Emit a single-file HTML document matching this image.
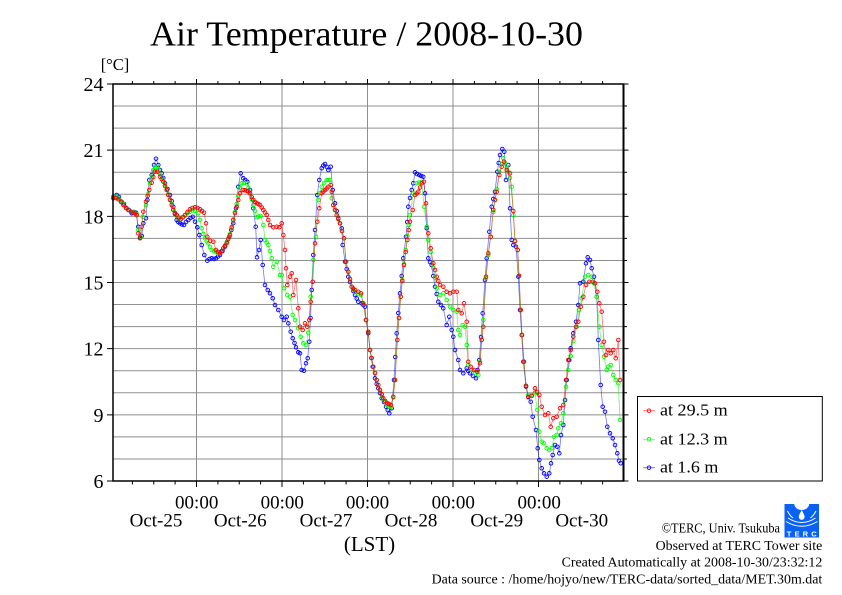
<!DOCTYPE html>
<html><head><meta charset="utf-8"><style>
html,body{margin:0;padding:0;background:#fff;}
svg{display:block;}
text{font-family:"Liberation Serif","DejaVu Serif",serif;fill:#000;}
</style></head><body>
<svg width="842" height="595" viewBox="0 0 842 595" xmlns="http://www.w3.org/2000/svg">
<defs>
<marker id="mb" markerUnits="userSpaceOnUse" markerWidth="6" markerHeight="6" refX="3" refY="3" viewBox="0 0 6 6" overflow="visible"><circle cx="3" cy="3" r="1.8" fill="none" stroke="#0000ff" stroke-width="0.9"/></marker>
<marker id="mg" markerUnits="userSpaceOnUse" markerWidth="6" markerHeight="6" refX="3" refY="3" viewBox="0 0 6 6" overflow="visible"><circle cx="3" cy="3" r="1.8" fill="none" stroke="#00ff00" stroke-width="0.9"/></marker>
<marker id="mr" markerUnits="userSpaceOnUse" markerWidth="6" markerHeight="6" refX="3" refY="3" viewBox="0 0 6 6" overflow="visible"><circle cx="3" cy="3" r="1.8" fill="none" stroke="#ff0000" stroke-width="0.9"/></marker>
</defs>
<rect width="842" height="595" fill="#fff"/>

<!-- title -->
<text x="150" y="45.7" font-size="35" textLength="433" lengthAdjust="spacingAndGlyphs">Air Temperature / 2008-10-30</text>
<text x="100.7" y="70" font-size="16.5">[°C]</text>

<!-- grid -->
<g stroke="#8f8f8f" stroke-width="1" fill="none">
<path d="M113 106.06H623.5M113 128.11H623.5M113 150.17H623.5M113 172.22H623.5M113 194.28H623.5M113 216.33H623.5M113 238.39H623.5M113 260.44H623.5M113 282.5H623.5M113 304.56H623.5M113 326.61H623.5M113 348.67H623.5M113 370.72H623.5M113 392.78H623.5M113 414.83H623.5M113 436.89H623.5M113 458.94H623.5"/>
<path d="M196.5 84V481M282 84V481M367.5 84V481M453 84V481M538.5 84V481"/>
</g>

<!-- ticks -->
<g stroke="#000" stroke-width="1" fill="none">
<path d="M132.4 84V81M153.75 84V81M175.1 84V81M217.9 84V81M239.25 84V81M260.6 84V81M303.4 84V81M324.75 84V81M346.1 84V81M388.9 84V81M410.25 84V81M431.6 84V81M474.4 84V81M495.75 84V81M517.1 84V81M559.9 84V81M581.25 84V81M602.6 84V81"/>
<path d="M196.5 84V79M282 84V79M367.5 84V79M453 84V79M538.5 84V79"/>
<path d="M132.4 481V484.5M153.75 481V484.5M175.1 481V484.5M217.9 481V484.5M239.25 481V484.5M260.6 481V484.5M303.4 481V484.5M324.75 481V484.5M346.1 481V484.5M388.9 481V484.5M410.25 481V484.5M431.6 481V484.5M474.4 481V484.5M495.75 481V484.5M517.1 481V484.5M559.9 481V484.5M581.25 481V484.5M602.6 481V484.5"/>
<path d="M196.5 481V487M282 481V487M367.5 481V487M453 481V487M538.5 481V487"/>
<path d="M107 84H113M107 150.17H113M107 216.33H113M107 282.5H113M107 348.67H113M107 414.83H113M107 481H113"/>
<path d="M623.5 106.06H627M623.5 128.11H627M623.5 172.22H627M623.5 194.28H627M623.5 238.39H627M623.5 260.44H627M623.5 304.56H627M623.5 326.61H627M623.5 370.72H627M623.5 392.78H627M623.5 436.89H627M623.5 458.94H627"/>
<path d="M623.5 84H628.5M623.5 150.17H628.5M623.5 216.33H628.5M623.5 282.5H628.5M623.5 348.67H628.5M623.5 414.83H628.5M623.5 481H628.5"/>
</g>

<!-- y labels -->
<g font-size="20" text-anchor="end">
<text x="103.5" y="91">24</text>
<text x="103.5" y="157.2">21</text>
<text x="103.5" y="223.3">18</text>
<text x="103.5" y="289.5">15</text>
<text x="103.5" y="355.7">12</text>
<text x="103.5" y="421.8">9</text>
<text x="103.5" y="488">6</text>
</g>

<!-- x labels -->
<g font-size="19" text-anchor="middle">
<text x="196.7" y="508.7">00:00</text>
<text x="282.3" y="508.7">00:00</text>
<text x="367.5" y="508.7">00:00</text>
<text x="453.3" y="508.7">00:00</text>
<text x="539.2" y="508.7">00:00</text>
<text x="156" y="526.3">Oct-25</text>
<text x="240.3" y="526.3">Oct-26</text>
<text x="326" y="526.3">Oct-27</text>
<text x="411" y="526.3">Oct-28</text>
<text x="496.7" y="526.3">Oct-29</text>
<text x="581.7" y="526.3">Oct-30</text>
</g>
<text x="369.5" y="551" font-size="21" text-anchor="middle">(LST)</text>

<!-- series -->
<polyline fill="none" stroke="#0000ff" stroke-opacity="0.55" stroke-width="0.8" marker-start="url(#mb)" marker-mid="url(#mb)" marker-end="url(#mb)" points="113.3,196.7 116.7,195 119,197 121.7,201.7 124,204 126.7,208.3 129,210 131.7,213.3 134,212 136,212.7 138.3,226.7 140,237.3 141.7,236 143.3,223.3 146,218.3 147.3,200 149.3,180 151.7,175 154,165 156,158.7 158.3,165 160,170 161.7,173.3 163.3,178 165,183.3 167.5,189 170,195 171.7,201 173.3,206.7 175,214 176.7,220 178.3,222 180,223.3 182,224.5 184,225 186,222 188.3,220 190.5,218 192.7,216.7 195,221.7 197.3,227.3 199.3,235 201.7,245 204.3,255 207.3,260.7 209.5,259 211.7,258.3 214,259 216,258.3 218,256.5 220,255 222.5,251 225,246.7 227,242 229.3,236.7 231.3,230 233.3,223.3 236,208.3 238.3,186.7 240.7,173.3 243.3,178.3 245.3,180 247.3,181.7 250,190 251.7,199 253.3,208.3 255.7,226.7 257,257.3 259,250 260.7,240 262.7,265 265,285 267.7,290 270,293.3 272.7,298.3 275,305 278.3,310 281.7,316.7 284,320 286.7,316.7 288.3,323.3 290.7,331.7 292.7,338.3 294.5,343 296,347.3 298.3,352.3 300,353.3 301.7,370 304,370.7 306,363.3 307.7,358.3 309.3,341.7 310.5,318 311.7,290 313.3,255 315,230 317.3,195 319.3,180 321.7,168.3 323.3,165.5 325,164 327,167 328.3,170 330.7,166.7 332.7,190 335,203.3 336.7,211 338.3,218.3 340,223.3 341.7,228.3 342.7,245 345,261.7 346.7,269 348.3,276.7 350,282 351.7,286.7 353.3,291 355,295 356.7,298.5 358.3,301.7 361.7,303.3 363.3,305 365,306.7 366,320 368.3,333.3 370,350 371.3,358 372.7,366.7 375,378.3 376.7,384 378.3,388.3 380,393 381.7,398.3 384,402 386,406.7 387.7,410 389.3,413.3 391.7,408.3 394,380 395.3,357 396.7,333.3 398.3,313 400,293.3 401.7,276 403.3,258.3 406,236.7 407.2,222 408.3,206.7 410,198 411.7,190 413.3,183.3 415,172.3 417,174 419.3,175 421.3,176 423.3,176.7 425,193.3 426.7,228.3 428.3,258.3 430,262 431.7,265 433.3,276 435,286.7 436.7,294 438.3,301.7 441,305 443.3,308.3 446.7,325 449.3,316.7 451.7,330 453.3,336.7 455,350 458.3,360 460,370 463.3,373.3 466.7,368.3 468.3,371 470,373.3 473,376 476,378.3 477.6,370 479.3,360 481,337 482.7,313.3 485,280 486.7,258.3 489.3,231.7 491.7,206.7 493.3,199 495,191.7 497.3,171.7 498.7,163 500,155 502.3,149 504.3,151.7 506,180 508.3,165 510,208.3 511.7,240 513.3,245 516,246.7 518.3,276.7 520,310 521.7,335 523.3,361.7 526,386.7 528.3,396.7 530.7,401.7 532.7,416.7 536,430 537.7,448.3 539.3,460 541.7,468.3 544,473.3 546.7,476.7 549.3,473.3 551,463.3 552.7,455 555,445 557.3,446.7 559.3,453.3 561,435 563.3,425 565,400 566.7,380 569.3,360 570.7,348.3 573.3,333.3 576,321.7 578.3,305 580,283.3 583.3,281.7 586,263.3 587.7,257.3 590,260 591.7,268.3 594,276.7 596.7,296.7 598.3,340 600.7,385 602.7,406.7 605,411.7 607.3,426.7 610,433.3 612.7,438.3 615,445 617.3,453.3 619,460.7 620.7,463.3"/>

<polyline fill="none" stroke="#00ff00" stroke-opacity="0.6" stroke-width="0.8" marker-start="url(#mg)" marker-mid="url(#mg)" marker-end="url(#mg)" points="113.3,197.5 116,196.5 118.3,198 121,201 123.3,204 126,207.5 128.3,209.5 131,211.5 133.3,212 135,213 136.7,214 138.3,230 140.7,236.7 142.7,216.7 146,205 148,194 150,183.3 151.7,178 153.3,170 155,167.5 156.7,166.7 158.3,170 160,174 161.7,177 163.3,181 165,185 166.7,189.5 168.3,194.5 170,199.5 171.7,204 173.3,209 175,213 176.7,216 178.7,218.5 180.7,219.5 183,217.5 185,215.5 187.5,213 190,211.7 192.5,210.5 195,210.7 198.3,213.3 200,220 201.7,228.3 203.3,234 205,238.3 206.7,241 208.3,243.3 210,247 211.7,250 214,251 216,251.7 218,253 220,253.5 221.7,251 223.3,248.3 225,245.5 226.7,242.5 228.3,238.5 230,234 231.7,227 233.3,219.5 235,212 236.7,204 238.3,196 240,188 241.7,183.3 244,183 246.7,183.3 248.3,188 250,193.3 251.7,199 253.3,205 255,211 256.7,217.3 258.5,216.5 260.7,216 263.3,225 265,240 266.7,242.5 268.3,245 270,251 271.7,258.3 273.3,266.7 276.7,261.7 280,275 281.7,275 284,288.3 287.3,295 290,296.7 292.7,315 295,320 298.3,328.3 300.7,336.7 303.3,343.3 306,345 308.3,332.7 310.7,296.7 313.3,260 316,236.7 318.3,200 320,193 321.7,186.7 324,183 326.7,180 328.3,180 330,180 331.7,198.3 333.3,205 335,210 336.7,215 338.3,219 340,223.3 342,231 344,238.3 346,261.7 348.3,271.7 350,279 351.7,286.7 353.3,289.5 355,292 358.3,294 361,295 363.3,304 366,320 368.3,331.7 370,350 371.7,358 373.3,366.7 375,373 376.7,380 378.3,385 380,390.5 381.7,395 383.3,399 385.3,402 387.3,405 389,406.5 391,407 393.3,397.5 395,380 397.3,340 399,318 400.7,296.7 402.3,280 404,264 405.7,250 407.3,236 408.7,225 410,215 413.3,193.3 416.7,183.3 419,182.5 421.7,181.7 424,206.7 426.7,226.7 428.3,240 430.7,252 433.3,268 435,278 436.7,288.3 440,295 443.3,293.3 446.7,300 450,306.7 453.3,310 456.7,311.7 458.3,330 460,335 462.7,325 465,326.7 466.7,345 468.3,365 471.7,370 475,373.3 478.3,375 480,361.7 481.7,340 483.3,320 486,278 488.3,255 490.7,237 493.3,212 495,200 496.7,189 499.3,172 501.7,164 503.3,158.3 505,163 506.7,168 508.3,171.7 510,178 511.7,186.7 513.3,215 515,241 517.7,250 519,275.7 520.7,310 522,335 524,361.7 526,385.7 528.3,395 531.7,395 535,393.3 537.3,410 539.3,431.7 541.7,441.7 544,443.3 546.7,448.3 549.3,450 551.7,448.3 554,436.7 556.7,435 558.3,428.3 561,423.3 563.3,413.3 566,386.7 568.3,370 570.7,356 573.3,341 576.7,326.7 579,310 581.7,298.3 585,276.7 588.3,275 591.7,276.7 594,283.3 596.7,296.7 599.3,326.7 601.7,345 604,356.7 606.7,370 608.3,366.7 610.7,365 613.3,375 615.7,380 618.3,383.3 620,420"/>

<polyline fill="none" stroke="#ff0000" stroke-opacity="0.55" stroke-width="0.8" marker-start="url(#mr)" marker-mid="url(#mr)" marker-end="url(#mr)" points="113.3,198.3 116,198 118.3,199.3 121,202 123.3,205 126,208 128.3,210 131,212 133.3,212.7 135,213.5 136.7,215 138.3,233.3 140,238.3 141.7,226.7 143.3,211.7 146,201.7 147.6,196 149.3,190 151.7,182.7 153.3,177 155,171.7 157.3,171.7 160,176.7 161.7,179 163.3,181.7 165,186 166.7,190 168.3,195 170,200 171.7,205 173.3,210 175,213 176.7,215 178.7,217.5 180.7,219.3 183,217 185,215 187.5,212 190,209.3 192.5,208 195,207.3 197.5,208 200,209.3 202,211 204,212.7 206,223.3 207.3,236.7 210,240.7 213.3,241.7 216,250 218,252 220,253.3 221.7,251 223.3,248.3 225,246 226.7,243.3 228.3,239 230,235 231.7,227.5 233.3,220 235,213 236.7,206.7 238.3,200 240,193.3 242.7,190 244.7,190.3 246.7,190.7 248.3,191.5 250,193.3 251.7,197 253.3,200 255,202 256.7,203.3 258.3,204 260,205 261.7,207.5 263.3,210 265,212.5 266.7,215 268.3,220 270,225 273.3,227.3 276.7,226.7 279.3,227.3 281.7,223.3 283.3,235 285,250 286,268.3 287.3,285 290,276.7 291.7,273.3 293.3,295 296,280 298.3,308.3 300,326.7 302.7,330 305,323.3 307.3,326.7 309.3,320 310.7,301.7 312.7,281.7 315,243.3 317.3,221.7 319.3,208.3 321.7,193.3 323.3,191.5 325,190 326.7,188.5 328.3,186.7 330.7,185 331.7,191.7 333.3,205 335,210 336.7,215 338.3,219 340,223.3 342,231 344,238.3 346,261.7 348.3,271.7 350,279 351.7,286.7 353.3,288.5 355,290 358.3,291.7 361,293.3 363.3,303.3 366,320 368.3,331.7 370,350 371.7,358 373.3,366.7 375,373 376.7,380 378.3,385 380,390 381.7,394 383.3,398.3 385.3,401 387.3,403.3 389,404 391,405 393.3,396.7 395,380 397.3,340 399,318 400.7,296.7 402.3,281 404,265 405.7,252 407.3,240 408.7,230 410,221.7 412.7,210 415,195 416.7,193.5 418.3,191.7 420,187.5 421.7,183.3 424,181.7 426,203.3 428.3,233.3 430.7,248.3 433.3,263.3 435,270 436.7,276.7 438.3,281 440,285 443.3,286.7 446.7,291.7 450,293.3 453.3,291.7 456.7,291.7 458.3,310 461.7,313.3 464,303.3 466.7,321.7 468.3,361.7 470.7,366.7 474,370 477.3,371.7 480,363.3 481.7,340 483.3,326.7 486,276.7 488.3,253.3 490.7,236.7 493.3,210 495,200 496.7,191.7 499.3,175 501.7,166.7 504,161.7 506.7,170 510,173.3 513.3,211 515,241 517.7,250 519,275.7 520.7,310 522,335 524,361.7 526,385.7 528.3,397.3 531.7,396 535,388.3 537,392 539.3,395 541.7,406.7 545,415 548.3,413.3 550.7,426.7 553.3,418.3 556.7,416.7 560,408.3 563.3,405 566,380 568.3,360 570.7,350 573.3,336.7 576,326.7 578.3,321.7 580.7,306.7 583.3,296.7 586,285 589.3,281.7 592.7,281.7 595,283.3 597.3,291.7 599.3,303.3 601.7,311.7 604,341.7 606,355 608.3,350 610.7,353.3 613.3,350 615.7,358.3 618.3,340 620,380"/>

<!-- frame -->
<rect x="113" y="84" width="510.5" height="397" fill="none" stroke="#000" stroke-width="1.5"/>
<line x1="623.5" y1="84" x2="623.5" y2="481" stroke="#000" stroke-width="2"/>

<!-- legend -->
<rect x="637.5" y="396.5" width="184.8" height="84.5" fill="#fff" stroke="#000" stroke-width="1"/>
<g stroke-width="0.9">
<line x1="643.3" y1="410.7" x2="655" y2="410.7" stroke="#ff0000" stroke-opacity="0.6"/>
<circle cx="649" cy="410.7" r="1.8" fill="none" stroke="#ff0000"/>
<line x1="643.3" y1="439.3" x2="655" y2="439.3" stroke="#00ff00" stroke-opacity="0.6"/>
<circle cx="649" cy="439.3" r="1.8" fill="none" stroke="#00ff00"/>
<line x1="643.3" y1="467.7" x2="655" y2="467.7" stroke="#0000ff" stroke-opacity="0.6"/>
<circle cx="649" cy="467.7" r="1.8" fill="none" stroke="#0000ff"/>
</g>
<g font-size="16.5">
<text x="660" y="415.7" textLength="67.7" lengthAdjust="spacingAndGlyphs">at 29.5 m</text>
<text x="660" y="444.3" textLength="67.7" lengthAdjust="spacingAndGlyphs">at 12.3 m</text>
<text x="660" y="472.3" textLength="58.3" lengthAdjust="spacingAndGlyphs">at 1.6 m</text>
</g>

<!-- logo -->
<g>
<rect x="784.5" y="504" width="34.5" height="33.5" fill="#0a62f5"/>
<ellipse cx="801.7" cy="503.5" rx="7.5" ry="6.5" fill="#fff"/>
<path d="M801.7 510 C799.5 514 798.8 515.5 798.8 517 A2.9 2.9 0 0 0 804.6 517 C804.6 515.5 803.9 514 801.7 510Z" fill="#fff"/>
<path d="M788 518 Q801.7 527 815.5 518" fill="none" stroke="#fff" stroke-width="1"/>
<path d="M786 521.5 Q801.7 531 817.5 521.5" fill="none" stroke="#fff" stroke-width="1"/>
<path d="M787.5 511 Q790 516 793 518" fill="none" stroke="#fff" stroke-width="1"/>
<path d="M816 511 Q813.4 516 810.4 518" fill="none" stroke="#fff" stroke-width="1"/>
<text x="801.7" y="536.3" font-size="7.5" text-anchor="middle" style="fill:#fff;font-family:'Liberation Sans',sans-serif;font-weight:bold;" textLength="30" lengthAdjust="spacing">TERC</text>
</g>

<!-- credits -->
<g font-size="13.5" text-anchor="end">
<text x="780" y="532.7" textLength="118.3" lengthAdjust="spacingAndGlyphs">©TERC, Univ. Tsukuba</text>
<text x="822.3" y="550" textLength="166.7" lengthAdjust="spacingAndGlyphs">Observed at TERC Tower site</text>
<text x="822.3" y="566.7" textLength="260.7" lengthAdjust="spacingAndGlyphs">Created Automatically at 2008-10-30/23:32:12</text>
<text x="822.3" y="583.3" textLength="390.7" lengthAdjust="spacingAndGlyphs">Data source : /home/hojyo/new/TERC-data/sorted_data/MET.30m.dat</text>
</g>
</svg>
</body></html>
